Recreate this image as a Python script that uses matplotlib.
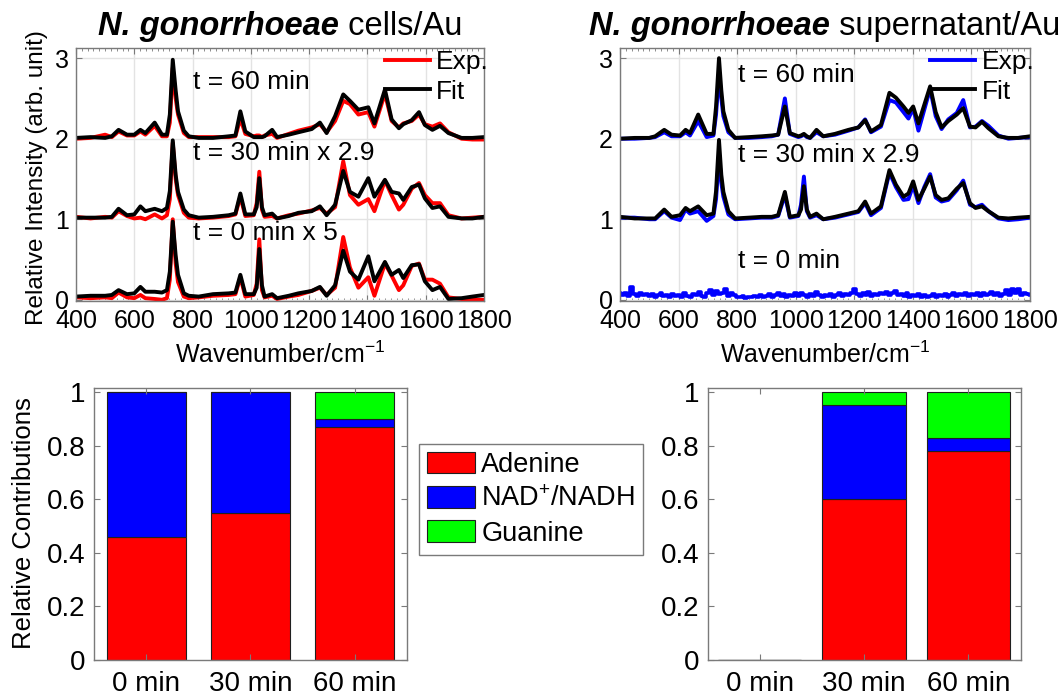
import numpy as np
import matplotlib
matplotlib.use('Agg')
import matplotlib.pyplot as plt
from matplotlib.ticker import MultipleLocator, FixedLocator

plt.rcParams['font.family'] = ['Liberation Sans', 'DejaVu Sans']
plt.rcParams['mathtext.fontset'] = 'custom'
plt.rcParams['mathtext.rm'] = 'Liberation Sans'
plt.rcParams['mathtext.it'] = 'Liberation Sans:italic'

# ---- Raman spectra, cells on Au (offset by 1 per time point) ----
wn_cells = [400, 450, 500, 523, 546, 575, 600, 621, 638, 670,
            695, 712, 722, 732, 742, 750, 770, 787, 821, 870,
            924, 947, 964, 981, 1010, 1020, 1029, 1038, 1047, 1073,
            1090, 1130, 1163, 1209, 1237, 1260, 1289, 1317, 1340, 1369,
            1403, 1424, 1460, 1483, 1508, 1523, 1552, 1577, 1597, 1623,
            1649, 1678, 1723, 1760, 1800]

cells60_fit = [2.01, 2.02, 2.01, 2.03, 2.11, 2.05, 2.05, 2.11, 2.07, 2.20,
               2.05, 2.05, 2.30, 2.98, 2.60, 2.34, 2.10, 2.03, 2.01, 2.01,
               2.03, 2.04, 2.34, 2.09, 2.02, 2.02, 2.02, 2.02, 2.03, 2.11,
               2.02, 2.05, 2.08, 2.12, 2.20, 2.07, 2.28, 2.55, 2.47, 2.36,
               2.39, 2.19, 2.61, 2.24, 2.13, 2.18, 2.23, 2.33, 2.17, 2.11,
               2.16, 2.07, 2.01, 2.01, 2.02]
cells60_exp = [2.00, 2.01, 2.05, 2.02, 2.09, 2.04, 2.04, 2.09, 2.05, 2.16,
               2.03, 2.03, 2.20, 2.88, 2.50, 2.30, 2.07, 2.02, 2.02, 2.02,
               2.02, 2.03, 2.25, 2.06, 2.03, 2.04, 2.04, 2.02, 2.04, 2.06,
               2.01, 2.06, 2.10, 2.14, 2.18, 2.08, 2.22, 2.47, 2.43, 2.30,
               2.33, 2.15, 2.56, 2.22, 2.14, 2.19, 2.22, 2.30, 2.18, 2.15,
               2.19, 2.08, 2.00, 1.99, 1.99]

cells30_fit = [1.02, 1.02, 1.02, 1.03, 1.13, 1.05, 1.06, 1.16, 1.10, 1.13,
               1.10, 1.14, 1.35, 1.98, 1.55, 1.34, 1.12, 1.05, 1.02, 1.03,
               1.05, 1.07, 1.32, 1.06, 1.06, 1.15, 1.51, 1.15, 1.05, 1.07,
               1.01, 1.04, 1.08, 1.10, 1.16, 1.05, 1.18, 1.60, 1.34, 1.28,
               1.51, 1.28, 1.49, 1.34, 1.32, 1.24, 1.40, 1.43, 1.26, 1.14,
               1.16, 1.03, 1.01, 1.01, 1.03]
cells30_exp = [1.03, 1.01, 1.03, 1.02, 1.10, 1.04, 1.01, 1.02, 1.00, 1.06,
               1.01, 1.05, 1.25, 1.95, 1.50, 1.30, 1.08, 1.02, 1.01, 1.02,
               1.04, 1.06, 1.28, 1.04, 1.05, 1.20, 1.59, 1.12, 1.03, 1.04,
               1.01, 1.05, 1.07, 1.11, 1.14, 1.07, 1.15, 1.72, 1.30, 1.18,
               1.25, 1.10, 1.48, 1.30, 1.12, 1.18, 1.38, 1.45, 1.30, 1.20,
               1.20, 1.05, 1.01, 1.02, 1.03]

cells0_fit = [0.04, 0.05, 0.05, 0.06, 0.12, 0.07, 0.08, 0.16, 0.10, 0.10,
              0.09, 0.12, 0.35, 0.97, 0.55, 0.31, 0.08, 0.05, 0.04, 0.07,
              0.08, 0.09, 0.31, 0.07, 0.07, 0.15, 0.63, 0.18, 0.04, 0.07,
              0.02, 0.05, 0.08, 0.11, 0.16, 0.05, 0.18, 0.61, 0.35, 0.25,
              0.54, 0.23, 0.47, 0.31, 0.37, 0.27, 0.43, 0.44, 0.23, 0.12,
              0.16, 0.01, 0.02, 0.04, 0.06]
cells0_exp = [0.03, 0.02, 0.03, 0.02, 0.09, 0.03, 0.02, 0.06, 0.02, 0.01,
              0.00, 0.02, 0.25, 1.00, 0.45, 0.22, 0.04, 0.02, 0.03, 0.05,
              0.06, 0.07, 0.28, 0.04, 0.06, 0.20, 0.75, 0.12, 0.03, 0.05,
              0.01, 0.04, 0.06, 0.11, 0.15, 0.06, 0.15, 0.78, 0.40, 0.15,
              0.28, 0.05, 0.45, 0.30, 0.12, 0.18, 0.42, 0.45, 0.25, 0.25,
              0.20, 0.03, 0.01, 0.00, 0.00]

# ---- Raman spectra, supernatant on Au ----
wn_sup = [400, 450, 500, 520, 551, 576, 605, 624, 639, 667,
          696, 719, 728, 738, 746, 753, 770, 793, 840, 884,
          918, 940, 963, 980, 1009, 1018, 1028, 1038, 1049, 1071,
          1094, 1134, 1180, 1214, 1237, 1257, 1291, 1320, 1342, 1368,
          1385, 1401, 1419, 1439, 1459, 1478, 1498, 1521, 1550, 1572,
          1595, 1614, 1636, 1658, 1692, 1726, 1760, 1800]

sup60_fit = [2.00, 2.01, 2.01, 2.03, 2.11, 2.05, 2.04, 2.11, 2.07, 2.30,
             2.06, 2.06, 2.40, 3.00, 2.60, 2.34, 2.11, 2.01, 2.02, 2.03,
             2.04, 2.05, 2.40, 2.07, 2.03, 2.04, 2.06, 2.03, 2.01, 2.11,
             2.03, 2.06, 2.11, 2.14, 2.23, 2.09, 2.17, 2.57, 2.51, 2.40,
             2.32, 2.40, 2.19, 2.42, 2.65, 2.33, 2.14, 2.22, 2.30, 2.38,
             2.15, 2.14, 2.21, 2.13, 2.03, 2.01, 2.01, 2.03]
sup60_exp = [2.00, 2.00, 2.01, 2.02, 2.08, 2.03, 2.03, 2.08, 2.04, 2.22,
             2.02, 2.04, 2.30, 2.82, 2.50, 2.28, 2.08, 2.01, 2.01, 2.02,
             2.03, 2.05, 2.50, 2.06, 2.02, 2.03, 2.05, 2.02, 2.01, 2.08,
             2.03, 2.05, 2.10, 2.14, 2.24, 2.08, 2.15, 2.48, 2.45, 2.33,
             2.25, 2.38, 2.10, 2.36, 2.62, 2.28, 2.12, 2.24, 2.32, 2.48,
             2.14, 2.15, 2.22, 2.16, 2.04, 2.00, 2.01, 2.02]

sup30_fit = [1.03, 1.01, 1.01, 1.01, 1.12, 1.03, 1.05, 1.14, 1.10, 1.16,
             1.05, 1.07, 1.35, 1.985, 1.55, 1.34, 1.10, 1.01, 1.02, 1.03,
             1.03, 1.05, 1.34, 1.03, 1.05, 1.12, 1.41, 1.12, 1.03, 1.07,
             1.00, 1.03, 1.07, 1.10, 1.22, 1.07, 1.16, 1.61, 1.43, 1.28,
             1.32, 1.47, 1.24, 1.38, 1.53, 1.30, 1.24, 1.26, 1.38, 1.45,
             1.20, 1.14, 1.16, 1.10, 1.02, 1.01, 1.02, 1.03]
sup30_exp = [1.02, 1.02, 1.00, 1.00, 1.10, 1.02, 0.99, 1.12, 1.07, 1.10,
             0.98, 1.04, 1.25, 1.80, 1.45, 1.28, 1.06, 1.00, 1.01, 1.02,
             1.02, 1.04, 1.30, 1.02, 1.04, 1.18, 1.53, 1.10, 1.02, 1.05,
             1.00, 1.02, 1.06, 1.09, 1.20, 1.05, 1.14, 1.58, 1.40, 1.24,
             1.25, 1.42, 1.20, 1.40, 1.56, 1.27, 1.22, 1.24, 1.36, 1.48,
             1.18, 1.15, 1.18, 1.10, 1.01, 0.99, 1.00, 1.02]

# t = 0 supernatant: noise only, sampled every 10 cm-1
wn_noise = np.arange(400, 1801, 10)
sup0_exp = [0.08, 0.06, 0.09, 0.05, 0.16, 0.07, 0.05, 0.08, 0.06, 0.07,
            0.05, 0.07, 0.04, 0.06, 0.09, 0.05, 0.06, 0.03, 0.07, 0.05,
            0.06, 0.04, 0.08, 0.05, 0.03, 0.07, 0.06, 0.10, 0.05, 0.04,
            0.08, 0.12, 0.06, 0.11, 0.07, 0.09, 0.13, 0.05, 0.08, 0.06,
            0.04, 0.03, 0.05, 0.02, 0.04, 0.03, 0.05, 0.04, 0.06, 0.03,
            0.05, 0.07, 0.04, 0.06, 0.08, 0.05, 0.07, 0.04, 0.06, 0.05,
            0.08, 0.05, 0.09, 0.06, 0.04, 0.07, 0.05, 0.10, 0.06, 0.04,
            0.06, 0.05, 0.07, 0.04, 0.06, 0.08, 0.05, 0.07, 0.06, 0.09,
            0.13, 0.07, 0.05, 0.08, 0.06, 0.10, 0.05, 0.07, 0.06, 0.09,
            0.07, 0.10, 0.06, 0.08, 0.11, 0.06, 0.07, 0.05, 0.08, 0.04,
            0.06, 0.05, 0.07, 0.04, 0.06, 0.03, 0.05, 0.07, 0.04, 0.06,
            0.05, 0.07, 0.04, 0.06, 0.08, 0.05, 0.07, 0.06, 0.09, 0.05,
            0.07, 0.06, 0.08, 0.05, 0.09, 0.06, 0.07, 0.10, 0.06, 0.08,
            0.05, 0.07, 0.12, 0.06, 0.14, 0.08, 0.13, 0.06, 0.09, 0.07,
            0.06]

# ---- relative contributions ----
times = ['0 min', '30 min', '60 min']
components = ['Adenine', 'NAD$^{+}$/NADH', 'Guanine']
comp_colors = ['#ff0000', '#0000ff', '#00ff00']
cells_contrib = [[0.46, 0.55, 0.87],   # adenine
                 [0.54, 0.45, 0.03],   # NAD+/NADH
                 [0.00, 0.00, 0.10]]   # guanine
sup_contrib = [[0.00, 0.60, 0.78],
               [0.00, 0.35, 0.05],
               [0.00, 0.05, 0.17]]

W, H = 1063, 695
FS = 18
SPINE = '#7a7a7a'


def px_axes(x0, y0, x1, y1):
    # axes rectangle given in pixel coordinates (origin top-left)
    return fig.add_axes([x0 / W, 1 - y1 / H, (x1 - x0) / W, (y1 - y0) / H])


def style_axes(ax, size):
    for s in ax.spines.values():
        s.set_color(SPINE)
        s.set_linewidth(1.0)
    ax.tick_params(which='both', direction='in', top=True, right=True,
                   color=SPINE, labelsize=size)
    ax.tick_params(which='major', length=4)
    ax.tick_params(which='minor', length=2)


def spectra_axes(ax):
    style_axes(ax, FS)
    ax.set_xlim(400, 1800)
    ax.set_ylim(-0.015, 3.13)
    ax.xaxis.set_major_locator(MultipleLocator(200))
    ax.xaxis.set_minor_locator(MultipleLocator(20))
    ax.yaxis.set_major_locator(FixedLocator([0, 1, 2, 3]))
    ax.tick_params(axis='x', pad=6)
    ax.tick_params(axis='y', pad=5)
    ax.grid(True, which='major', color='#e3e3e3', lw=1.0)
    ax.set_axisbelow(True)


def split_title(ax, bold_part, rest, y_px):
    pos = ax.get_position()
    xc = pos.x0 + pos.width / 2
    y = 1 - y_px / H
    t1 = fig.text(0, y, bold_part, size=23.5, weight='bold', style='italic', va='baseline')
    t2 = fig.text(0, y, ' ' + rest, size=23.5, va='baseline')
    fig.canvas.draw()
    r = fig.canvas.get_renderer()
    w1 = t1.get_window_extent(r).width / fig.bbox.width
    w2 = t2.get_window_extent(r).width / fig.bbox.width
    x0 = xc - (w1 + w2) / 2
    t1.set_x(x0)
    t2.set_x(x0 + w1)


fig = plt.figure(figsize=(W / 100, H / 100), dpi=100)

ax1 = px_axes(76, 47.7, 484, 301)
ax2 = px_axes(620, 47.7, 1030, 301)
ax3 = px_axes(94, 388, 407, 660)
ax4 = px_axes(707.5, 388, 1020.5, 660)

# spectra, cells
lw = 2.8
for exp, fit in [(cells60_exp, cells60_fit), (cells30_exp, cells30_fit), (cells0_exp, cells0_fit)]:
    l_exp, = ax1.plot(wn_cells, exp, color='#ff0000', lw=lw)
    l_fit, = ax1.plot(wn_cells, fit, color='k', lw=lw)
spectra_axes(ax1)
ax1.legend([l_exp, l_fit], ['Exp.', 'Fit'], loc='upper left', bbox_to_anchor=(0.757, 0.99),
           frameon=False, fontsize=19, borderpad=0, borderaxespad=0, handlelength=1.7,
           handletextpad=0.25, labelspacing=0.2)
ax1.text(800, 2.71, 't = 60 min', fontsize=19, va='center')
ax1.text(800, 1.82, 't = 30 min x 2.9', fontsize=19, va='center')
ax1.text(800, 0.83, 't = 0 min x 5', fontsize=19, va='center')

# spectra, supernatant
for exp, fit in [(sup60_exp, sup60_fit), (sup30_exp, sup30_fit)]:
    s_exp, = ax2.plot(wn_sup, exp, color='#0000ff', lw=lw)
    s_fit, = ax2.plot(wn_sup, fit, color='k', lw=lw)
ax2.plot(wn_noise, sup0_exp, color='#0000ff', lw=2.6, drawstyle='steps-mid')
spectra_axes(ax2)
ax2.legend([s_exp, s_fit], ['Exp.', 'Fit'], loc='upper left', bbox_to_anchor=(0.756, 0.99),
           frameon=False, fontsize=19, borderpad=0, borderaxespad=0, handlelength=1.7,
           handletextpad=0.25, labelspacing=0.2)
ax2.text(804, 2.79, 't = 60 min', fontsize=19, va='center')
ax2.text(804, 1.80, 't = 30 min x 2.9', fontsize=19, va='center')
ax2.text(804, 0.48, 't = 0 min', fontsize=19, va='center')

for ax in (ax1, ax2):
    pos = ax.get_position()
    fig.text(pos.x0 + pos.width / 2, 1 - 363 / H, 'Wavenumber/cm$^{-1}$', fontsize=FS,
             ha='center', va='baseline')
fig.text(37 / W, 1 - 178 / H, 'Relative Intensity (arb. unit)', fontsize=17.5,
         rotation=90, ha='center', va='center')

# stacked bars
x = np.arange(1, 4)
handles = []
for ax, data, width in [(ax3, cells_contrib, 0.76), (ax4, sup_contrib, 0.8)]:
    bottom = np.zeros(3)
    for vals, c in zip(data, comp_colors):
        b = ax.bar(x, vals, width, bottom=bottom, color=c, edgecolor='#202020', lw=0.8)
        bottom += np.array(vals)
        if ax is ax3:
            handles.append(b)
    style_axes(ax, 20)
    ax.set_xlim(0.5, 3.5)
    ax.set_ylim(0, 1.015)
    ax.set_xticks(x)
    ax.set_xticklabels(times)
    ax.yaxis.set_major_locator(FixedLocator([0, 0.2, 0.4, 0.6, 0.8, 1.0]))
    ax.set_yticklabels(['0', '0.2', '0.4', '0.6', '0.8', '1'])
    ax.tick_params(axis='x', pad=8)
    ax.tick_params(axis='y', pad=6)

fig.text(24 / W, 1 - 523 / H, 'Relative Contributions', fontsize=18.5,
         rotation=90, ha='center', va='center')

leg = fig.legend(handles, components, loc='upper left',
                 bbox_to_anchor=(419 / W, 1 - 443.6 / H), fontsize=19.5,
                 fancybox=False, framealpha=1, edgecolor=SPINE, borderaxespad=0,
                 handlelength=1.75, handleheight=0.85, handletextpad=0.25,
                 labelspacing=0.3, borderpad=0.3)
leg.get_frame().set_linewidth(1.0)

split_title(ax1, 'N. gonorrhoeae', 'cells/Au', 35)
split_title(ax2, 'N. gonorrhoeae', 'supernatant/Au', 35)

fig.savefig('out.png', dpi=100)
